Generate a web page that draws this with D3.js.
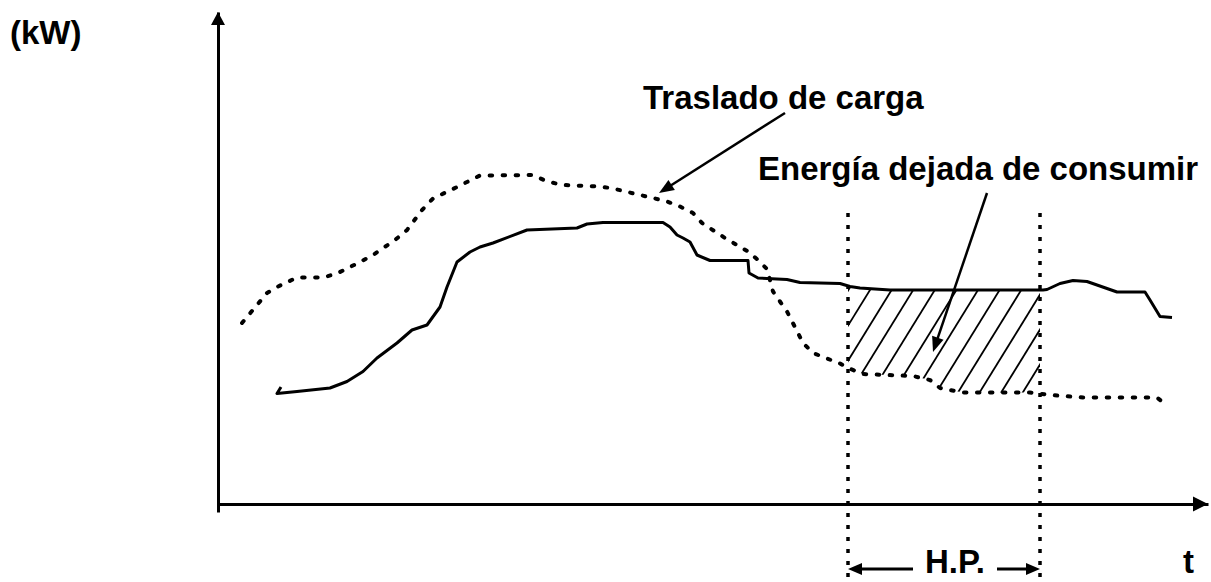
<!DOCTYPE html>
<html>
<head>
<meta charset="utf-8">
<script src="https://cdnjs.cloudflare.com/ajax/libs/d3/7.8.5/d3.min.js"></script>
<style>
  body { margin: 0; background: #fff; }
  text { font-family: "Liberation Sans", Arial, sans-serif; font-weight: bold; fill: #000; }
</style>
</head>
<body>
<svg id="chart" width="1211" height="582"></svg>
<script>
// Load curve with peak-hour demand (solid line): time / kW
const baseT = [6.3, 5.9, 7.9, 11.2, 12.9, 14.5, 15.9, 17.9, 19.4, 20.9, 22.2, 22.9, 23.9, 25.2, 26.2, 27.5,
    30.9, 35.9, 36.9, 38.5, 44.5, 45.2, 45.9, 46.5, 47.2, 47.9, 49.2, 53.0, 53.1, 54.0, 56.9, 58.2,
    62.2, 63.2, 64.2, 67.2, 82.5, 82.9, 84.2, 85.5, 86.9, 87.9, 88.9, 89.9, 92.7, 93.2, 94.2, 95.4]
const baseKW = [23.4, 22.1, 22.5, 23.2, 24.5, 26.5, 29.2, 32.2, 34.8, 35.8, 39.4, 43.4, 48.4, 50.4, 51.4, 52.2,
    54.8, 55.2, 56.0, 56.3, 56.3, 55.4, 53.8, 53.2, 52.4, 49.8, 48.7, 48.7, 46.2, 45.2, 44.9, 44.3,
    44.1, 43.5, 43.2, 42.8, 42.8, 42.9, 44.1, 44.7, 44.5, 43.8, 43.1, 42.4, 42.4, 40.8, 37.5, 37.3]

// Load curve after moving load out of peak hours (dotted line)
const shiftT = [2.4, 4.9, 5.9, 7.9, 10.5, 11.9, 14.2, 15.5, 17.7, 18.9, 20.4, 21.5, 23.9, 26.2, 31.5, 32.9,
    34.5, 38.2, 39.5, 42.2, 43.5, 44.9, 46.2, 47.5, 48.4, 50.7, 53.0, 54.0, 54.9, 55.5, 56.9, 58.0,
    58.5, 59.5, 60.9, 62.2, 63.0, 64.5, 69.5, 71.2, 72.2, 74.5, 81.2, 83.2, 86.5, 93.9, 94.7]
const shiftKW = [36.2, 42.2, 43.4, 45.3, 45.3, 46.1, 48.4, 49.8, 52.8, 54.8, 58.8, 61.1, 63.4, 65.7, 65.8, 64.5,
    63.8, 63.5, 63.1, 61.8, 61.2, 60.5, 59.5, 58.2, 56.2, 53.2, 50.5, 48.8, 47.0, 42.5, 38.5, 34.2,
    32.2, 30.2, 29.1, 28.1, 27.2, 26.0, 25.6, 24.8, 23.2, 22.3, 22.3, 21.8, 21.3, 21.3, 20.0]

// Peak hours (H.P.) window
const peakHours = [63.0, 82.2]

// Texts
const yLabel = "(kW)"
const xLabel = "t"
const peakLabel = "H.P."
const shiftLabel = "Traslado de carga"
const savedLabel = "Energía dejada de consumir"

const svg = d3.select("#chart")
const height = +svg.attr("height")

const x = d3.scaleLinear().domain([0, 99]).range([218, 1208])
const y = d3.scaleLinear().domain([-1.6, 98.4]).range([512, 12])

const basePts = baseT.map((t, i) => [t, baseKW[i]])
const shiftPts = shiftT.map((t, i) => [t, shiftKW[i]])

const line = d3.line().x(d => x(d[0])).y(d => y(d[1]))

// Value of a curve at time t, only used to close the hatched area
function valueAt(pts, t) {
    for(let i = 1; i < pts.length; ++i) {
        const a = pts[i - 1], b = pts[i]
        if(a[0] <= t && t <= b[0] && b[0] > a[0]) {
            return a[1] + (b[1] - a[1]) * (t - a[0]) / (b[0] - a[0])
        }
    }
    return pts[pts.length - 1][1]
}

// Draw a filled arrow head with its point at tip, coming from "from"
function arrowHead(tip, from, len, half) {
    const dx = tip[0] - from[0], dy = tip[1] - from[1]
    const d = Math.hypot(dx, dy)
    const ux = dx / d, uy = dy / d
    const bx = tip[0] - ux * len, by = tip[1] - uy * len
    svg.append("path")
        .attr("d", `M${tip[0]},${tip[1]}L${bx - uy * half},${by + ux * half}L${bx + uy * half},${by - ux * half}Z`)
        .attr("fill", "#000")
}

function arrow(from, tip, w, len, half) {
    const dx = tip[0] - from[0], dy = tip[1] - from[1]
    const d = Math.hypot(dx, dy)
    const end = [tip[0] - dx / d * (len - 2), tip[1] - dy / d * (len - 2)]
    svg.append("line")
        .attr("x1", from[0]).attr("y1", from[1])
        .attr("x2", end[0]).attr("y2", end[1])
        .attr("stroke", "#000").attr("stroke-width", w)
    arrowHead(tip, from, len, half)
}

// Hatched area between both curves inside the peak hours
const [hp0, hp1] = peakHours
const topEdge = [[hp0, valueAt(basePts, hp0)],
    ...basePts.filter(d => d[0] > hp0 && d[0] < hp1),
    [hp1, valueAt(basePts, hp1)]]
const bottomEdge = [[hp1, valueAt(shiftPts, hp1)],
    ...shiftPts.filter(d => d[0] > hp0 && d[0] < hp1).reverse(),
    [hp0, valueAt(shiftPts, hp0)]]

svg.append("clipPath").attr("id", "hp-clip")
    .append("path")
    .attr("d", line(topEdge.concat(bottomEdge)) + "Z")

const hatchGap = 21.6
const hatchLean = 0.617
const yRef = y(42.8)
const hyTop = y(48), hyBot = y(18)
const hatchX = d3.range(-8, 12).map(k => x(hp0) + 22 + k * hatchGap)

svg.append("g")
    .attr("clip-path", "url(#hp-clip)")
    .selectAll("line")
    .data(hatchX)
    .join("line")
    .attr("x1", d => d + hatchLean * (yRef - hyTop))
    .attr("y1", hyTop)
    .attr("x2", d => d - hatchLean * (hyBot - yRef))
    .attr("y2", hyBot)
    .attr("stroke", "#000")
    .attr("stroke-width", 1.8)

// Peak hour limits (dotted verticals)
svg.append("g")
    .selectAll("line")
    .data(peakHours)
    .join("line")
    .attr("x1", d => x(d)).attr("x2", d => x(d))
    .attr("y1", y(58.2)).attr("y2", height)
    .attr("stroke", "#000")
    .attr("stroke-width", 3.5)
    .attr("stroke-dasharray", "4 8")

// Curves
svg.append("path")
    .attr("d", line(shiftPts))
    .attr("fill", "none")
    .attr("stroke", "#000")
    .attr("stroke-width", 4)
    .attr("stroke-linecap", "round")
    .attr("stroke-dasharray", "2.5 10.5")

svg.append("path")
    .attr("d", line(basePts))
    .attr("fill", "none")
    .attr("stroke", "#000")
    .attr("stroke-width", 3)
    .attr("stroke-linejoin", "round")

// Axes, no ticks
svg.append("g")
    .attr("transform", `translate(0,${y(0)})`)
    .call(d3.axisBottom(x).tickValues([]).tickSizeOuter(0))
    .call(g => g.select(".domain").attr("stroke-width", 3))

svg.append("g")
    .attr("transform", `translate(${x(0)},0)`)
    .call(d3.axisLeft(y).tickValues([]).tickSizeOuter(0))
    .call(g => g.select(".domain").attr("stroke-width", 3))

arrowHead([x(99), y(0)], [x(90), y(0)], 15, 7.5)
arrowHead([x(0), y(98.4)], [x(0), y(80)], 13, 7)

// Annotation arrows
arrow([x(56.7), y(78.2)], [x(44.1), y(62.2)], 2.5, 15, 6)
arrow([x(76.9), y(62.2)], [x(71.5), y(30.4)], 2.5, 15, 6)

// H.P. arrows
arrow([x(69.5), y(-13)], [x(hp0), y(-13)], 3, 14, 6)
arrow([x(77.9), y(-13)], [x(hp1), y(-13)], 3, 14, 6)

// Labels
const fontSize = 33
svg.append("text").attr("x", x(-20.8)).attr("y", y(92)).attr("font-size", fontSize).text(yLabel)
svg.append("text").attr("x", x(96.5)).attr("y", y(-13.8)).attr("font-size", fontSize).text(xLabel)
svg.append("text").attr("x", x(70.7)).attr("y", y(-13.8)).attr("font-size", fontSize).text(peakLabel)
svg.append("text").attr("x", x(42.5)).attr("y", y(79)).attr("font-size", fontSize).text(shiftLabel)
svg.append("text").attr("x", x(54)).attr("y", y(64.8)).attr("font-size", fontSize).text(savedLabel)
</script>
</body>
</html>
